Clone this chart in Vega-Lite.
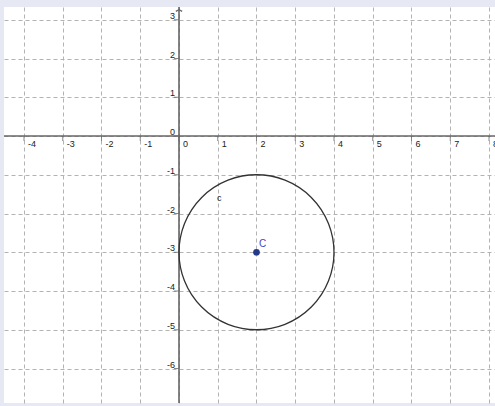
{
  "$schema": "https://vega.github.io/schema/vega-lite/v6.json",
  "width": 491,
  "height": 396,
  "autosize": {"type": "none"},
  "padding": {"left": 4, "top": 7, "right": 0, "bottom": 3},
  "background": "#e6e8f4",
  "config": {
    "view": {"fill": "white", "stroke": null},
    "axis": {"grid": true, "labels": false, "ticks": false, "domain": false, "gridDash": [4, 3], "gridColor": "#b3b3b3", "gridWidth": 1},
    "text": {"font": "Liberation Sans", "fontSize": 9, "color": "#222"}
  },
  "datasets": {
    "xt": [{"v": -4, "t": "-4"}, {"v": -3, "t": "-3"}, {"v": -2, "t": "-2"}, {"v": -1, "t": "-1"}, {"v": 0, "t": "0"}, {"v": 1, "t": "1"}, {"v": 2, "t": "2"}, {"v": 3, "t": "3"}, {"v": 4, "t": "4"}, {"v": 5, "t": "5"}, {"v": 6, "t": "6"}, {"v": 7, "t": "7"}, {"v": 8, "t": "8"}],
    "yt": [{"v": 3, "t": "3"}, {"v": 2, "t": "2"}, {"v": 1, "t": "1"}, {"v": 0, "t": "0"}, {"v": -1, "t": "-1"}, {"v": -2, "t": "-2"}, {"v": -3, "t": "-3"}, {"v": -4, "t": "-4"}, {"v": -5, "t": "-5"}, {"v": -6, "t": "-6"}],
    "center": [{"x": 2, "y": -3, "name": "C"}],
    "circlelabel": [{"x": 1.04, "y": -1.61, "name": "c"}],
    "arrow": [{"x": 0, "y": 3.26}]
  },
  "layer": [
    {
      "data": {"name": "xt"},
      "mark": {"type": "tick", "orient": "vertical", "size": 5, "thickness": 1, "yOffset": 2.5, "color": "#555"},
      "encoding": {
        "x": {"field": "v", "type": "quantitative", "scale": {"domain": [-4.516, 8.155], "nice": false, "zero": false}, "axis": {"values": [-4, -3, -2, -1, 0, 1, 2, 3, 4, 5, 6, 7, 8], "title": null}},
        "y": {"datum": 0, "type": "quantitative", "scale": {"domain": [-6.89, 3.329], "nice": false, "zero": false}, "axis": {"values": [-6, -5, -4, -3, -2, -1, 0, 1, 2, 3], "title": null}}
      }
    },
    {
      "data": {"name": "yt"},
      "mark": {"type": "tick", "orient": "horizontal", "size": 5, "thickness": 1, "xOffset": -2.5, "color": "#555"},
      "encoding": {
        "x": {"datum": 0, "type": "quantitative"},
        "y": {"field": "v", "type": "quantitative"}
      }
    },
    {
      "data": {"values": [{}]},
      "mark": {"type": "rule", "color": "#666", "strokeWidth": 1.6},
      "encoding": {"y": {"datum": 0, "type": "quantitative"}}
    },
    {
      "data": {"values": [{}]},
      "mark": {"type": "rule", "color": "#666", "strokeWidth": 1.6},
      "encoding": {"x": {"datum": 0, "type": "quantitative"}}
    },
    {
      "data": {"name": "xt"},
      "mark": {"type": "text", "align": "left", "baseline": "top", "dx": 4, "dy": 4},
      "encoding": {
        "x": {"field": "v", "type": "quantitative"},
        "y": {"datum": 0, "type": "quantitative"},
        "text": {"field": "t", "type": "nominal"}
      }
    },
    {
      "data": {"name": "yt"},
      "mark": {"type": "text", "align": "right", "baseline": "alphabetic", "dx": -4, "dy": -1},
      "encoding": {
        "x": {"datum": 0, "type": "quantitative"},
        "y": {"field": "v", "type": "quantitative"},
        "text": {"field": "t", "type": "nominal"}
      }
    },
    {
      "data": {"name": "center"},
      "mark": {"type": "point", "shape": "circle", "filled": false, "size": 24025, "stroke": "#333", "strokeWidth": 1.3, "opacity": 1},
      "encoding": {
        "x": {"field": "x", "type": "quantitative"},
        "y": {"field": "y", "type": "quantitative"}
      }
    },
    {
      "data": {"name": "center"},
      "mark": {"type": "point", "shape": "circle", "filled": true, "size": 45, "color": "#23398a", "opacity": 1},
      "encoding": {
        "x": {"field": "x", "type": "quantitative"},
        "y": {"field": "y", "type": "quantitative"}
      }
    },
    {
      "data": {"name": "center"},
      "mark": {"type": "text", "align": "center", "baseline": "middle", "dx": 6, "dy": -8.5, "fontSize": 10, "color": "#4646c2"},
      "encoding": {
        "x": {"field": "x", "type": "quantitative"},
        "y": {"field": "y", "type": "quantitative"},
        "text": {"field": "name", "type": "nominal"}
      }
    },
    {
      "data": {"name": "circlelabel"},
      "mark": {"type": "text", "align": "center", "baseline": "middle", "fontSize": 9, "color": "#222"},
      "encoding": {
        "x": {"field": "x", "type": "quantitative"},
        "y": {"field": "y", "type": "quantitative"},
        "text": {"field": "name", "type": "nominal"}
      }
    },
    {
      "data": {"name": "arrow"},
      "mark": {"type": "point", "shape": "M-1,0.5L0,0L1,0.5", "filled": false, "size": 40, "stroke": "#666", "strokeWidth": 1.4, "opacity": 1},
      "encoding": {
        "x": {"field": "x", "type": "quantitative"},
        "y": {"field": "y", "type": "quantitative"}
      }
    }
  ]
}
